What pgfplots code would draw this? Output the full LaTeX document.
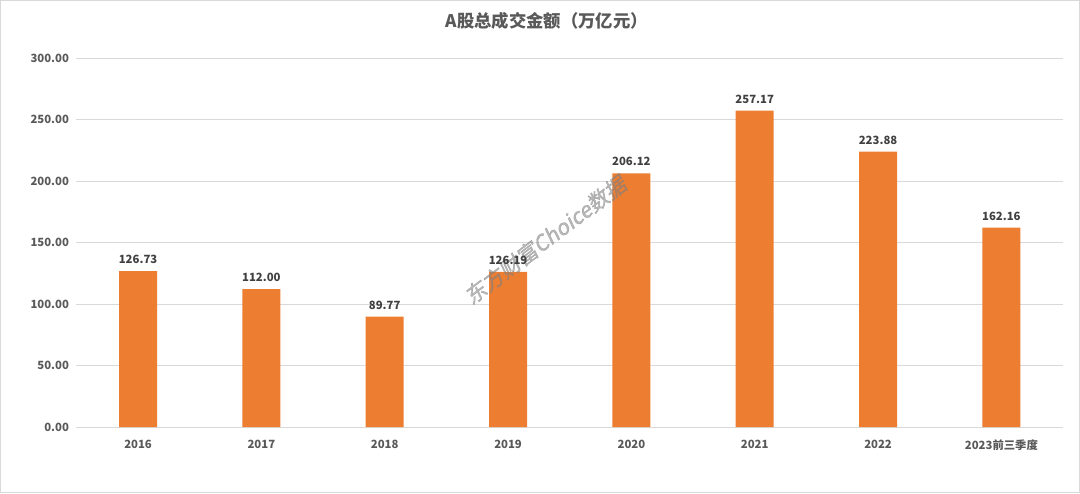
\documentclass[border=0pt]{standalone}
\usepackage{fontspec}
\setmainfont{Noto Sans CJK SC}
\newfontfamily\wm[FakeSlant=0.2,FakeBold=1.5]{Noto Sans CJK SC}
\usepackage{pgfplots}
\pgfplotsset{compat=1.18}
\definecolor{barc}{HTML}{ED7D31}
\definecolor{txt}{HTML}{595959}
\definecolor{lbl}{HTML}{404040}
\definecolor{gridc}{HTML}{D9D9D9}
\begin{document}
\begin{tikzpicture}
\draw[draw=gridc, line width=1pt] (0.5pt,0.5pt) rectangle (809.5pt,369.25pt);
\node[font=\bfseries\fontsize{13}{15}\selectfont, text=txt] at (410pt,354pt) {A股总成交金额（万亿元）};
\begin{axis}[
  at={(57.3pt,49.5pt)}, anchor=south west,
  scale only axis, width=740pt, height=276.75pt,
  xmin=-0.5, xmax=7.5, ymin=0, ymax=300,
  ytick={0,50,...,300},
  xtick={0,...,7},
  xticklabels={2016,2017,2018,2019,2020,2021,2022,2023前三季度},
  /pgf/number format/assume math mode=true,
  yticklabel style={/pgf/number format/fixed, /pgf/number format/fixed zerofill, /pgf/number format/precision=2, xshift=-2pt},
  ticklabel style={font=\bfseries\fontsize{8.5}{10}\selectfont, text=txt},
  axis line style={draw=none},
  tick style={draw=none},
  ymajorgrids, major grid style={draw=gridc, line width=0.75pt},
  ybar, bar width=28.5pt,
  nodes near coords,
  nodes near coords style={font=\bfseries\fontsize{8.5}{10}\selectfont, text=lbl, yshift=2pt,
     /pgf/number format/fixed, /pgf/number format/fixed zerofill, /pgf/number format/precision=2, /pgf/number format/assume math mode=true},
  xticklabel style={yshift=-2pt},
  clip=false,
]
\addplot[draw=none, fill=barc] coordinates {
 (0,126.73) (1,112.00) (2,89.77) (3,126.19) (4,206.12) (5,257.17) (6,223.88) (7,162.16)};
\node[rotate=37, text=gray, opacity=0.55, font=\wm\fontsize{16}{18}\selectfont] at (axis cs:3.3,152) {东方财富Choice数据};
\end{axis}
\end{tikzpicture}
\end{document}
